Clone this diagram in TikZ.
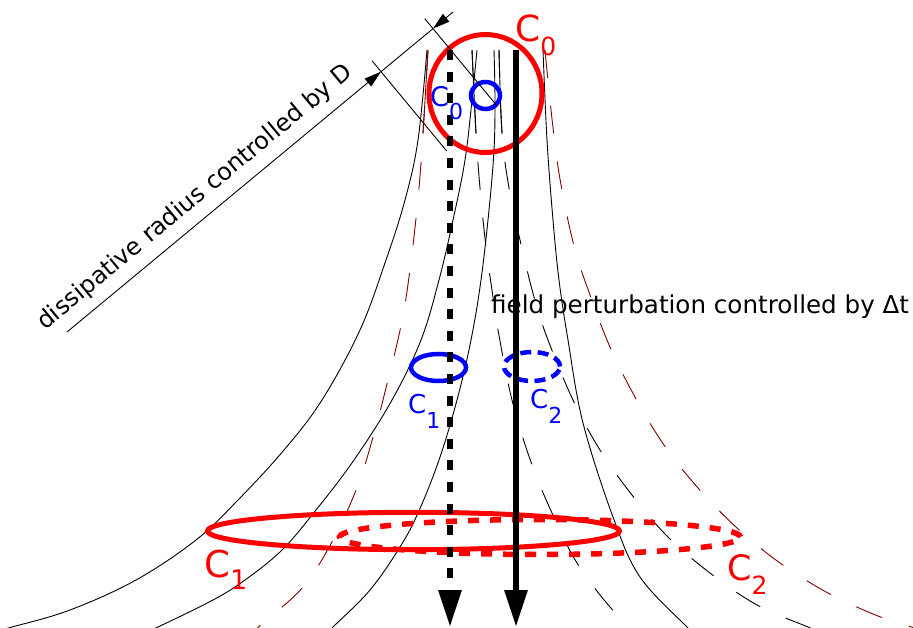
\documentclass[tikz,border=0pt]{standalone}
\usepackage{fontspec}
\setmainfont{DejaVu Sans}
\usetikzlibrary{arrows.meta}
\definecolor{darkred}{RGB}{128,0,0}
\newcommand\Clab[4]{{\fontsize{#1}{#1}\selectfont C}\raisebox{-#3}{\fontsize{#2}{#2}\selectfont #4}}
\tikzset{
  hair/.style={line width=0.9pt},
  fieldline/.style={hair, black},
  pertline/.style={hair, black, dash pattern=on 28pt off 28pt},
  dissline/.style={hair, darkred, dash pattern=on 28pt off 28pt},
  axisarrow/.style={line width=6pt, -{Triangle[length=37pt,width=22pt]}},
  pertarrow/.style={axisarrow, dash pattern=on 10pt off 11.6pt},
  redring/.style={red, line width=5pt},
  reddash/.style={red, line width=5.5pt, dash pattern=on 11pt off 11pt},
  bluering/.style={blue, line width=4.5pt},
  bluedash/.style={blue, line width=4.5pt, dash pattern=on 11pt off 6.5pt},
  dimline/.style={hair},
  dimtip/.style={hair, -{Triangle[length=17pt,width=10pt]}},
  lab/.style={inner sep=0pt, anchor=base west},
  txt/.style={inner sep=0pt, anchor=base west, font=\fontsize{24}{24}\selectfont},
  bigtxt/.style={inner sep=0pt, anchor=base west, font=\fontsize{24.6}{24.6}\selectfont},
}
\begin{document}
\begin{tikzpicture}[x=1pt, y=-1pt]
\useasboundingbox (0,0) rectangle (913,628);

% solid field lines
\draw[fieldline] plot[smooth, tension=0.6] coordinates {(427,50) (418,140) (405,200) (386,260) (360,330) (322,400) (284,450) (238,500) (196,540) (136,580) (70,610) (12,627) (-5,631)};
\draw[fieldline] plot[smooth, tension=0.6] coordinates {(477,50) (472,100) (465,160) (453,220) (439,280) (421,340) (392,400) (354,460) (316,510) (282,550) (245,580) (213,600) (158,627) (150,630)};
\draw[fieldline] plot[smooth, tension=0.6] coordinates {(494,50) (495,100) (494,150) (489,210) (481,280) (471,340) (457,400) (439,460) (418,513) (400,547) (370,590) (333,627) (330,630)};
\draw[fieldline] plot[smooth, tension=0.6] coordinates {(543,50) (547,140) (553,220) (559,280) (568,340) (583,423) (613,517) (640,577) (687,627) (690,630)};

% perturbed field lines (dashed black)
\draw[pertline] plot[smooth, tension=0.6] coordinates {(472,50) (476,133) (480,188) (486,247) (493,297) (498,330) (512,400) (531,462) (552,513) (577,563) (610,607) (633,628) (636,630)};
\draw[pertline] plot[smooth, tension=0.6] coordinates {(499,50) (502,133) (509,188) (520,240) (534,297) (548,340) (573,400) (600,450) (632,495) (668,537) (710,573) (757,605) (808,627) (815,630)};

% dissipative boundaries (dashed dark red)
\draw[dissline] plot[smooth, tension=0.6] coordinates {(428,50) (423,133) (419,188) (413,245) (406,298) (399,335) (388,380) (375,430) (358,485) (333,540) (303,587) (263,623) (255,630)};
\draw[dissline] plot[smooth, tension=0.6] coordinates {(545,50) (557,160) (573,242) (590,295) (610,347) (635,397) (664,445) (698,488) (737,528) (780,563) (828,593) (878,616) (915,628)};

% solid top parts
\begin{scope}
\clip (0,0) rectangle (913,133);
\draw[fieldline] plot[smooth, tension=0.6] coordinates {(472,50) (476,133) (480,188) (486,247)};
\draw[fieldline] plot[smooth, tension=0.6] coordinates {(499,50) (502,133) (509,188) (520,240)};
\draw[hair, darkred] plot[smooth, tension=0.6] coordinates {(428,50) (423,133) (419,188) (413,245)};
\end{scope}

% loops
\draw[redring] (485.5,93.5) ellipse [x radius=56.5pt, y radius=59pt];
\draw[bluering] (485.5,95.5) ellipse [x radius=14.5pt, y radius=13.5pt];
\draw[bluering] (438.5,367.5) ellipse [x radius=27.5pt, y radius=13.5pt];
\draw[bluedash] (532,366.5) ellipse [x radius=28pt, y radius=14.5pt];
\draw[redring] (413.5,531) ellipse [x radius=206pt, y radius=18.7pt];
\draw[reddash] (540,537) ellipse [x radius=200.5pt, y radius=17.5pt];

% flow arrows
\coordinate (pa) at (450,50);
\coordinate (pb) at (450,627);
\coordinate (sa) at (516,50);
\coordinate (sb) at (516,627);
\draw[pertarrow] (pa) -- (pb);
\draw[axisarrow] (sa) -- (sb);

% dimension
\coordinate (dimA) at (67,332);
\coordinate (dimB) at (453,12);
\coordinate (E1) at (433,28.6);
\coordinate (E2) at (381,71.7);
\coordinate (x1a) at (424.7,18.6);
\coordinate (x1b) at (496.8,105.6);
\coordinate (x2a) at (372.1,60.9);
\coordinate (x2b) at (446.7,151.0);
\draw[dimline] (x1a) -- (x1b);
\draw[dimline] (x2a) -- (x2b);
\draw[dimtip] (dimA) -- (E2);
\draw[dimline] (E2) -- (E1);
\draw[dimtip] (dimB) -- (E1);

% texts
\node[txt, rotate=39.66] (dtext) at (45,331) {dissipative radius controlled by D};
\node[bigtxt] (ftext) at (491,313) {field perturbation controlled by Δt};

% labels
\node[lab, red] (lC0r) at (515,42) {\Clab{36}{25}{14pt}{0}};
\node[lab, blue] (lC0b) at (430,107) {\Clab{27}{22}{13pt}{0}};
\node[lab, blue] (lC1b) at (408,413) {\Clab{26}{22}{15pt}{1}};
\node[lab, blue] (lC2b) at (530,408) {\Clab{26}{22}{15pt}{2}};
\node[lab, red] (lC1r) at (204,577) {\Clab{37}{27}{12pt}{1}};
\node[lab, red] (lC2r) at (727,580) {\Clab{35}{25}{14pt}{2}};
\end{tikzpicture}
\end{document}
